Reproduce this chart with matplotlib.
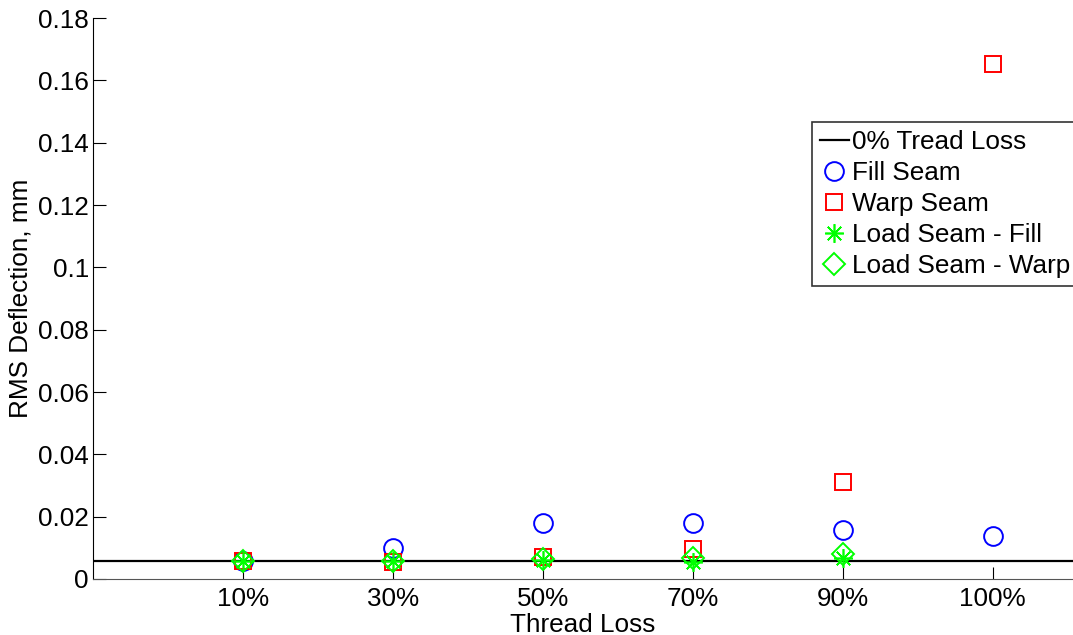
import matplotlib.pyplot as plt

plt.rcParams['font.family'] = ['Liberation Sans', 'DejaVu Sans']

# data
loss_labels = ['10%', '30%', '50%', '70%', '90%', '100%']
x_fill = [1, 2, 3, 4, 5, 6]
fill_seam = [0.0058, 0.0098, 0.0181, 0.0181, 0.0157, 0.0139]
x_warp = [1, 2, 3, 4, 5, 6]
warp_seam = [0.0058, 0.0055, 0.0072, 0.0095, 0.0312, 0.1654]
x_load = [1, 2, 3, 4, 5]
load_fill = [0.0058, 0.0057, 0.0060, 0.0055, 0.0066]
load_warp = [0.0058, 0.0059, 0.0064, 0.0066, 0.0079]
baseline = 0.0058

y_ticks = [0, 0.02, 0.04, 0.06, 0.08, 0.1, 0.12, 0.14, 0.16, 0.18]
y_labels = ['0', '0.02', '0.04', '0.06', '0.08', '0.1', '0.12', '0.14', '0.16', '0.18']

fs = 18.8

fig = plt.figure(figsize=(10.73, 6.35), dpi=100)
ax = fig.add_axes([93 / 1073, 1 - 579 / 635, 1 - 93 / 1073, (579 - 18) / 635])

ms = 13.5
mew = 1.4
ax.axhline(baseline, color='black', lw=1.6, label='0% Tread Loss')
ax.plot(x_fill, fill_seam, 'o', mfc='none', mec='#0000ff', ms=ms, mew=mew, ls='none', label='Fill Seam')
ax.plot(x_warp, warp_seam, 's', mfc='none', mec='#ff0000', ms=ms - 1.5, mew=mew, ls='none', label='Warp Seam')
ax.plot(x_load, load_fill, ls='none', marker=(8, 2, 0), mfc='none', mec='#00ff00',
        ms=ms, mew=1.2, label='Load Seam - Fill')
ax.plot(x_load, load_warp, 'D', mfc='none', mec='#00ff00', ms=ms - 2, mew=mew, ls='none', label='Load Seam - Warp')

ax.set_xlim(0, 6.535)
ax.set_ylim(0, 0.18)
ax.set_xticks(x_fill)
ax.set_xticklabels(loss_labels)
ax.set_yticks(y_ticks)
ax.set_yticklabels(y_labels)
ax.tick_params(direction='in', length=9, width=0.8, labelsize=fs, pad=3)
ax.tick_params(axis='x', pad=6)
ax.spines['top'].set_visible(False)
ax.spines['right'].set_visible(False)
ax.spines['left'].set_linewidth(0.8)
ax.spines['bottom'].set_linewidth(0.8)
ax.spines['bottom'].set_color('#555555')

ax.set_xlabel('Thread Loss', fontsize=fs, labelpad=1)
ax.set_ylabel('RMS Deflection, mm', fontsize=fs, labelpad=4)

leg = ax.legend(loc='upper left', bbox_to_anchor=(812 / 1073, 1 - 122 / 635),
                bbox_transform=fig.transFigure, fontsize=fs, frameon=True,
                fancybox=False, edgecolor='black', handlelength=1.1,
                handletextpad=0.15, labelspacing=0.27, borderpad=0.3,
                borderaxespad=0, markerscale=1.0)
leg.get_frame().set_linewidth(1.2)

fig.savefig('out.png', dpi=100)
